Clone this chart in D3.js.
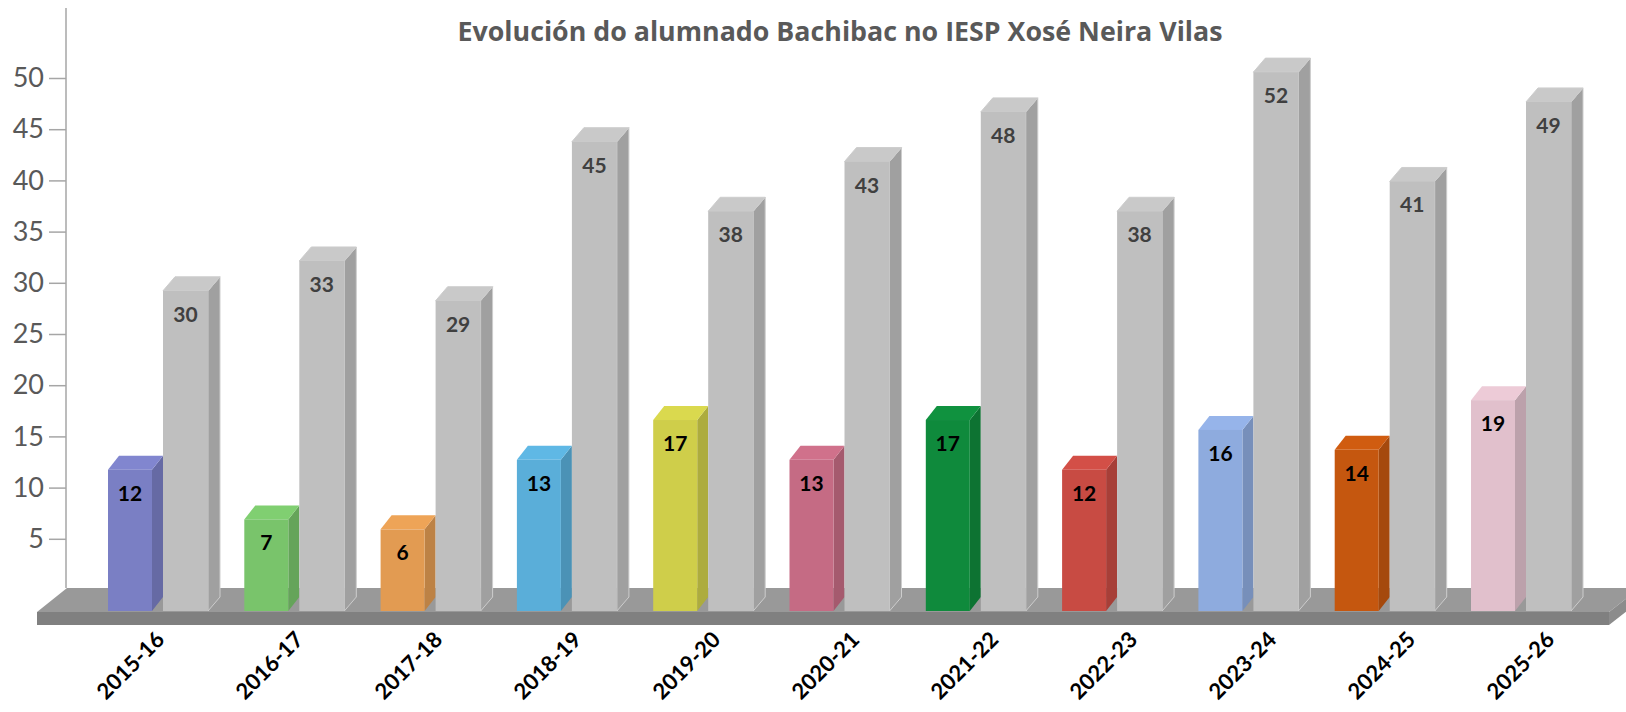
<!DOCTYPE html>
<html>
<head>
<meta charset="utf-8">
<script src="https://cdn.jsdelivr.net/npm/d3@7"></script>
<style>
  body { margin: 0; background: #fff; }
  svg { display: block; }
</style>
</head>
<body>
<div id="chart"></div>
<script>
// ---- data ----
const categories = ["2015-16", "2016-17", "2017-18", "2018-19", "2019-20", "2020-21",
                    "2021-22", "2022-23", "2023-24", "2024-25", "2025-26"];
const bachibac = [12, 7, 6, 13, 17, 13, 17, 12, 16, 14, 19];
const totals = [30, 33, 29, 45, 38, 43, 48, 38, 52, 41, 49];
const bachibacColors = ["#7a7fc4", "#79c46b", "#e29b52", "#5aaed9", "#cfce4a", "#c56b84",
                        "#0f8a3c", "#c84b43", "#8eabde", "#c5570f", "#e1c0cc"];
const totalColor = "#bfbfbf";
const yTicks = [5, 10, 15, 20, 25, 30, 35, 40, 45, 50];
const title = "Evolución do alumnado Bachibac no IESP Xosé Neira Vilas";

const width = 1626, height = 712;
const base = 611;          // front bottom of the bars
const dy = 14;             // 3D depth offset (vertical)

const svg = d3.select("#chart").append("svg")
    .attr("width", width)
    .attr("height", height);

const x = d3.scaleBand()
    .domain(categories)
    .range([108, 108 + 136.3 * categories.length]);

const xInner = d3.scaleBand()
    .domain(["bachibac", "total"])
    .range([0, 110]);

// category labels drift a little wider than the bars
const xLabel = d3.scalePoint()
    .domain(categories)
    .range([155, 155 + 139 * (categories.length - 1)]);

const y = d3.scaleLinear().domain([0, 50]).range([590, 78]);
// bar fronts sit slightly lower than the axis (perspective)
const yBar = d3.scaleLinear().domain([0, 50]).range([589, 92]);

// ---- floor ----
const floorBack = y(0) - 2, floorFront = 612, floorBottom = 625;
svg.append("polygon")
    .attr("points", [[67, floorBack], [1640, floorBack], [1609, floorFront], [37, floorFront]].join(" "))
    .attr("fill", "#999999");
svg.append("polygon")
    .attr("points", [[37, floorFront], [1609, floorFront], [1609, floorBottom], [37, floorBottom]].join(" "))
    .attr("fill", "#808080");
svg.append("polygon")
    .attr("points", [[1609, floorFront], [1640, floorBack], [1640, floorBack + 13], [1609, floorBottom]].join(" "))
    .attr("fill", "#8c8c8c");

// ---- y axis ----
const yAxis = svg.append("g")
    .attr("transform", "translate(66,0)")
    .call(d3.axisLeft(y).tickValues(yTicks).tickSize(17).tickPadding(5));
yAxis.select(".domain").remove();
yAxis.selectAll(".tick line").attr("stroke", "#a6a6a6").attr("stroke-width", 1.5);
yAxis.selectAll(".tick text")
    .attr("fill", "#595959")
    .style("font-family", "Lato, 'Open Sans', sans-serif")
    .style("font-size", "27px");
svg.append("line")
    .attr("x1", 66).attr("x2", 66)
    .attr("y1", 8).attr("y2", floorBack)
    .attr("stroke", "#a6a6a6")
    .attr("stroke-width", 1.5);

// ---- bars ----
function drawBar(g, x0, w, value, color, depth, outline) {
    const x1 = x0 + w;
    const top = yBar(value);
    const c = d3.color(color);
    // side
    g.append("polygon")
        .attr("points", [[x1, top], [x1 + depth, top - dy], [x1 + depth, base - dy], [x1, base]].join(" "))
        .attr("fill", c.darker(0.5))
        .attr("stroke", outline).attr("stroke-width", outline ? 1 : 0);
    // top
    g.append("polygon")
        .attr("points", [[x0, top], [x0 + depth, top - dy], [x1 + depth, top - dy], [x1, top]].join(" "))
        .attr("fill", c.brighter(0.15))
        .attr("stroke", outline).attr("stroke-width", outline ? 1 : 0);
    // front
    g.append("rect")
        .attr("x", x0).attr("y", top)
        .attr("width", w).attr("height", base - top)
        .attr("fill", color);
}

const groups = svg.append("g").selectAll("g")
    .data(categories)
    .join("g");

groups.each(function (cat, i) {
    const g = d3.select(this);
    const gx = x(cat);
    drawBar(g, gx + xInner("bachibac"), 44, bachibac[i], bachibacColors[i], 11, null);
    drawBar(g, gx + xInner("total"), 45, totals[i], totalColor, 12, "#cdcdcd");

    g.append("text")
        .attr("x", gx + xInner("bachibac") + 22)
        .attr("y", yBar(bachibac[i]) + 31)
        .attr("text-anchor", "middle")
        .attr("fill", "#000")
        .style("font-family", "Lato, 'Open Sans', sans-serif")
        .style("font-weight", "700")
        .style("font-size", "21px")
        .text(bachibac[i]);

    g.append("text")
        .attr("x", gx + xInner("total") + 22.5)
        .attr("y", yBar(totals[i]) + 31)
        .attr("text-anchor", "middle")
        .attr("fill", "#404040")
        .style("font-family", "Lato, 'Open Sans', sans-serif")
        .style("font-weight", "700")
        .style("font-size", "21px")
        .text(totals[i]);
});

// ---- category labels ----
svg.append("g").selectAll("text")
    .data(categories)
    .join("text")
    .attr("transform", d => `translate(${xLabel(d)},630) rotate(-45)`)
    .attr("text-anchor", "end")
    .attr("dy", "0.7em")
    .attr("fill", "#000")
    .style("font-family", "Lato, 'Open Sans', sans-serif")
    .style("font-weight", "700")
    .style("font-size", "22px")
    .text(d => d);

// ---- title ----
svg.append("text")
    .attr("x", 840)
    .attr("y", 41)
    .attr("text-anchor", "middle")
    .attr("fill", "#595959")
    .attr("textLength", 765)
    .attr("lengthAdjust", "spacingAndGlyphs")
    .style("font-family", "'Open Sans', Lato, sans-serif")
    .style("font-weight", "700")
    .style("font-size", "26px")
    .text(title);
</script>
</body>
</html>
